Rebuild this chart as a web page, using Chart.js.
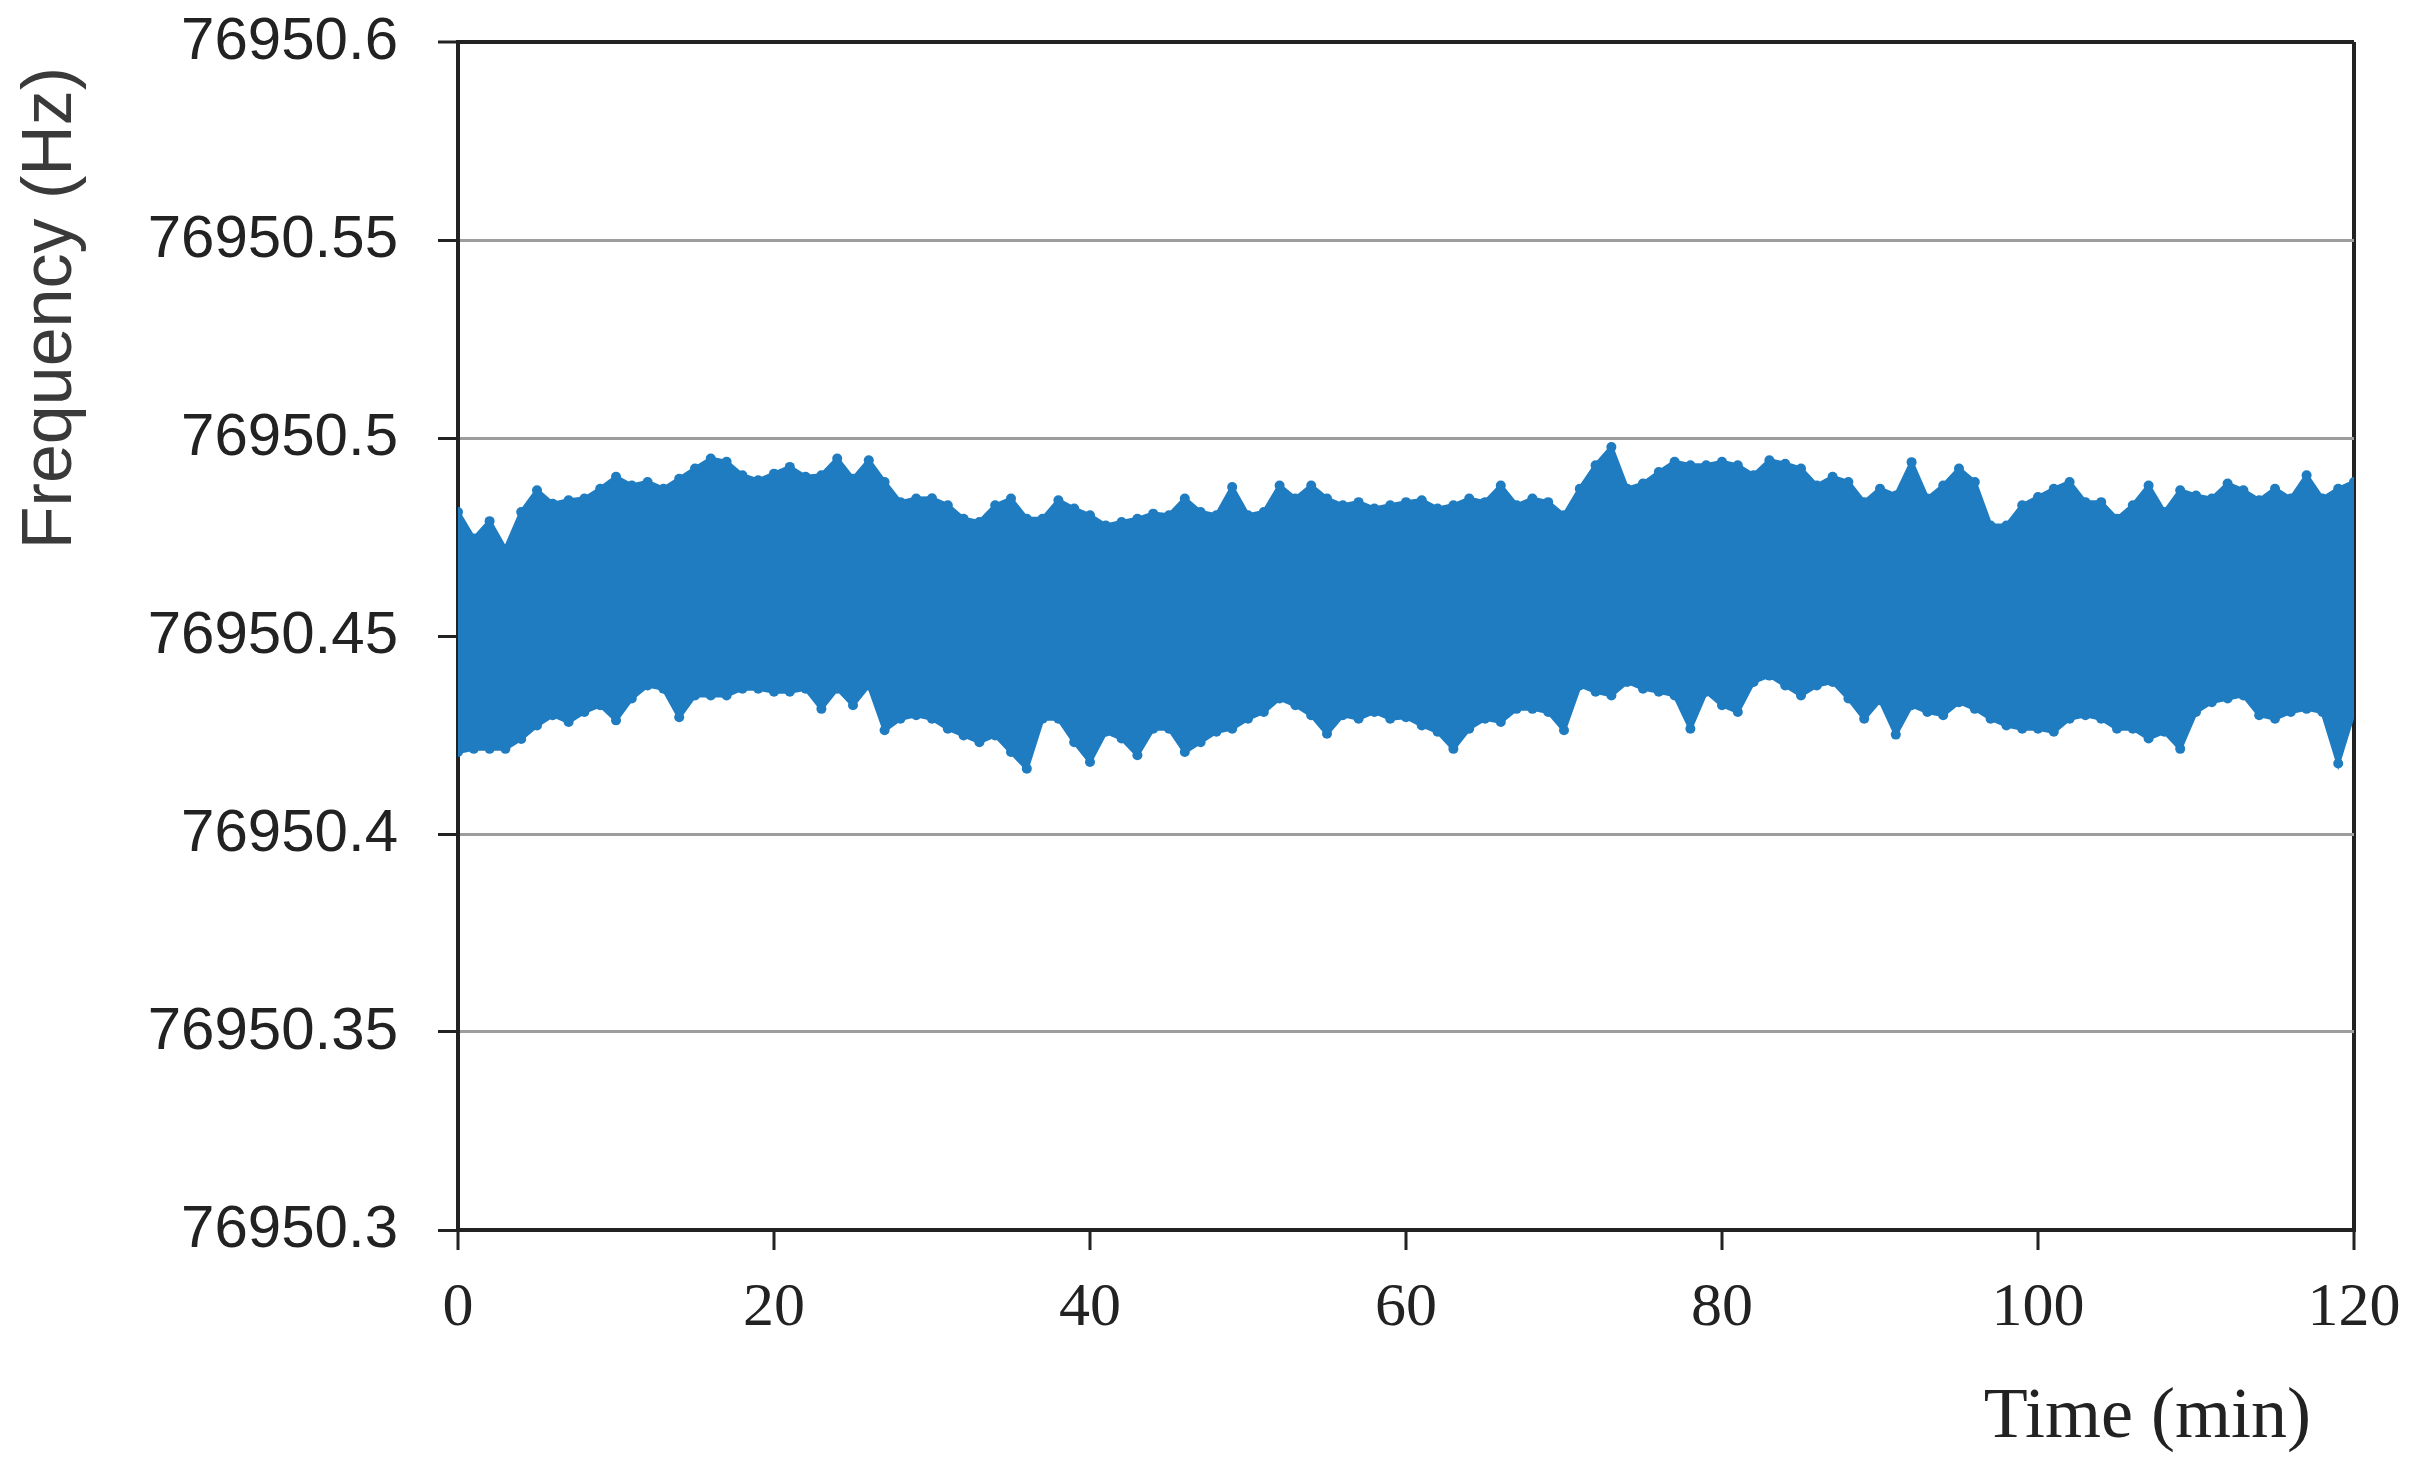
<!DOCTYPE html>
<html>
<head>
<meta charset="utf-8">
<script src="https://cdn.jsdelivr.net/npm/chart.js@4.4.1/dist/chart.umd.min.js"></script>
<style>
  html, body { margin: 0; padding: 0; background: #fff; }
  canvas { display: block; }
</style>
</head>
<body>
<canvas id="freq-chart" width="2416" height="1474"></canvas>
<script>
// time stamps (min) at which the band edges were read
const timeMin = [
  0, 1, 2, 3, 4, 5, 6, 7, 8, 9, 10, 11, 12, 13, 14, 15, 16, 17, 18, 19,
  20, 21, 22, 23, 24, 25, 26, 27, 28, 29, 30, 31, 32, 33, 34, 35, 36, 37, 38, 39,
  40, 41, 42, 43, 44, 45, 46, 47, 48, 49, 50, 51, 52, 53, 54, 55, 56, 57, 58, 59,
  60, 61, 62, 63, 64, 65, 66, 67, 68, 69, 70, 71, 72, 73, 74, 75, 76, 77, 78, 79,
  80, 81, 82, 83, 84, 85, 86, 87, 88, 89, 90, 91, 92, 93, 94, 95, 96, 97, 98, 99,
  100, 101, 102, 103, 104, 105, 106, 107, 108, 109, 110, 111, 112, 113, 114, 115, 116, 117, 118, 119,
  120
];

// upper edge of the measured frequency band (Hz)
const upperHz = [
  76950.4813, 76950.4746, 76950.4790, 76950.4720, 76950.4813, 76950.4868, 76950.4834, 76950.4843, 76950.4847, 76950.4872,
  76950.4902, 76950.4880, 76950.4889, 76950.4872, 76950.4897, 76950.4923, 76950.4948, 76950.4940, 76950.4906, 76950.4893,
  76950.4910, 76950.4927, 76950.4902, 76950.4906, 76950.4948, 76950.4897, 76950.4944, 76950.4889, 76950.4838, 76950.4847,
  76950.4848, 76950.4830, 76950.4796, 76950.4788, 76950.4830, 76950.4847, 76950.4796, 76950.4796, 76950.4843, 76950.4822,
  76950.4805, 76950.4779, 76950.4788, 76950.4796, 76950.4809, 76950.4805, 76950.4847, 76950.4813, 76950.4805, 76950.4876,
  76950.4805, 76950.4813, 76950.4880, 76950.4847, 76950.4880, 76950.4847, 76950.4830, 76950.4838, 76950.4822, 76950.4830,
  76950.4838, 76950.4843, 76950.4822, 76950.4830, 76950.4847, 76950.4838, 76950.4880, 76950.4830, 76950.4847, 76950.4838,
  76950.4805, 76950.4872, 76950.4931, 76950.4977, 76950.4872, 76950.4885, 76950.4914, 76950.4940, 76950.4931, 76950.4931,
  76950.4940, 76950.4931, 76950.4906, 76950.4944, 76950.4935, 76950.4923, 76950.4880, 76950.4902, 76950.4889, 76950.4838,
  76950.4872, 76950.4855, 76950.4939, 76950.4847, 76950.4880, 76950.4923, 76950.4889, 76950.4779, 76950.4779, 76950.4830,
  76950.4851, 76950.4872, 76950.4889, 76950.4838, 76950.4838, 76950.4796, 76950.4830, 76950.4880, 76950.4813, 76950.4868,
  76950.4855, 76950.4847, 76950.4885, 76950.4868, 76950.4843, 76950.4872, 76950.4847, 76950.4906, 76950.4847, 76950.4872,
  76950.4889
];

// lower edge of the measured frequency band (Hz)
const lowerHz = [
  76950.4207, 76950.4215, 76950.4215, 76950.4215, 76950.4240, 76950.4274, 76950.4300, 76950.4283, 76950.4308, 76950.4325,
  76950.4287, 76950.4342, 76950.4375, 76950.4367, 76950.4295, 76950.4350, 76950.4350, 76950.4350, 76950.4367, 76950.4367,
  76950.4359, 76950.4359, 76950.4367, 76950.4316, 76950.4367, 76950.4325, 76950.4375, 76950.4262, 76950.4291, 76950.4300,
  76950.4291, 76950.4266, 76950.4249, 76950.4232, 76950.4249, 76950.4207, 76950.4165, 76950.4291, 76950.4291, 76950.4232,
  76950.4182, 76950.4258, 76950.4241, 76950.4199, 76950.4266, 76950.4266, 76950.4207, 76950.4232, 76950.4258, 76950.4266,
  76950.4291, 76950.4308, 76950.4342, 76950.4325, 76950.4300, 76950.4253, 76950.4300, 76950.4291, 76950.4308, 76950.4291,
  76950.4295, 76950.4274, 76950.4258, 76950.4215, 76950.4266, 76950.4291, 76950.4283, 76950.4316, 76950.4316, 76950.4308,
  76950.4262, 76950.4375, 76950.4359, 76950.4350, 76950.4384, 76950.4367, 76950.4359, 76950.4350, 76950.4266, 76950.4359,
  76950.4325, 76950.4308, 76950.4384, 76950.4400, 76950.4375, 76950.4350, 76950.4375, 76950.4384, 76950.4342, 76950.4291,
  76950.4338, 76950.4251, 76950.4325, 76950.4308, 76950.4300, 76950.4333, 76950.4316, 76950.4291, 76950.4274, 76950.4266,
  76950.4266, 76950.4258, 76950.4291, 76950.4300, 76950.4291, 76950.4266, 76950.4266, 76950.4241, 76950.4258, 76950.4215,
  76950.4308, 76950.4333, 76950.4342, 76950.4350, 76950.4300, 76950.4291, 76950.4308, 76950.4316, 76950.4308, 76950.4178,
  76950.4308
];

const xTicks = [0, 20, 40, 60, 80, 100, 120];
const yTicks = [76950.3, 76950.35, 76950.4, 76950.45, 76950.5, 76950.55, 76950.6];
const yTickLabels = ['76950.3', '76950.35', '76950.4', '76950.45', '76950.5', '76950.55', '76950.6'];
const xTitle = 'Time (min)';
const yTitle = 'Frequency (Hz)';

const blue = '#1f7cc1';
const ink = '#222';

// axis titles sit off-centre in the original, so they are drawn by hand
const axisTitles = {
  id: 'axisTitles',
  afterDraw(chart) {
    const { ctx, chartArea } = chart;
    ctx.save();
    ctx.fillStyle = ink;
    ctx.font = '72px "Liberation Serif"';
    ctx.textAlign = 'right';
    ctx.textBaseline = 'middle';
    ctx.fillText(xTitle, chartArea.right - 43, chartArea.bottom + 188);

    ctx.translate(71, chartArea.top + 266);
    ctx.rotate(-Math.PI / 2);
    ctx.fillStyle = '#3a3a3a';
    ctx.font = '70px "Liberation Sans"';
    ctx.textAlign = 'center';
    ctx.textBaseline = 'alphabetic';
    ctx.fillText(yTitle, 0, 0);
    ctx.restore();
  }
};

const band = (values, fill) => ({
  data: timeMin.map((t, i) => ({ x: t, y: values[i] })),
  borderColor: blue,
  backgroundColor: blue,
  pointBackgroundColor: blue,
  pointBorderWidth: 0,
  pointRadius: 5,
  borderWidth: 4,
  tension: 0,
  fill: fill
});

new Chart(document.getElementById('freq-chart'), {
  type: 'line',
  data: { datasets: [band(upperHz, '+1'), band(lowerHz, false)] },
  options: {
    responsive: false,
    animation: false,
    layout: { padding: { top: 42, right: 62, bottom: 0, left: 0 } },
    plugins: { legend: { display: false }, tooltip: { enabled: false } },
    scales: {
      x: {
        type: 'linear',
        min: 0,
        max: 120,
        afterBuildTicks: s => { s.ticks = xTicks.map(v => ({ value: v })); },
        afterFit: s => {
          s.height = 244;
          s.paddingLeft = 0;
          s.paddingRight = 0;
        },
        border: { color: ink, width: 4 },
        grid: {
          color: c => (c.tick && c.tick.value === 120 ? ink : 'rgba(0,0,0,0)'),
          lineWidth: 4,
          tickColor: ink,
          tickWidth: 3,
          tickLength: 20
        },
        ticks: {
          padding: 22,
          color: ink,
          maxRotation: 0,
          font: { family: 'Liberation Serif', size: 62 }
        }
      },
      y: {
        type: 'linear',
        min: yTicks[0],
        max: yTicks[yTicks.length - 1],
        afterBuildTicks: s => { s.ticks = yTicks.map(v => ({ value: v })); },
        afterFit: s => {
          s.width = 458;
          s.paddingTop = 0;
          s.paddingBottom = 0;
        },
        border: { color: ink, width: 4 },
        grid: {
          color: c => (c.tick && c.tick.value === yTicks[yTicks.length - 1] ? ink : '#9d9d9d'),
          lineWidth: c => (c.tick && c.tick.value === yTicks[yTicks.length - 1] ? 4 : 3),
          tickColor: ink,
          tickWidth: 3,
          tickLength: 20
        },
        ticks: {
          padding: 40,
          color: ink,
          font: { family: 'Liberation Sans', size: 60 },
          callback: (v, i) => yTickLabels[i]
        }
      }
    }
  },
  plugins: [axisTitles]
});
</script>
</body>
</html>
